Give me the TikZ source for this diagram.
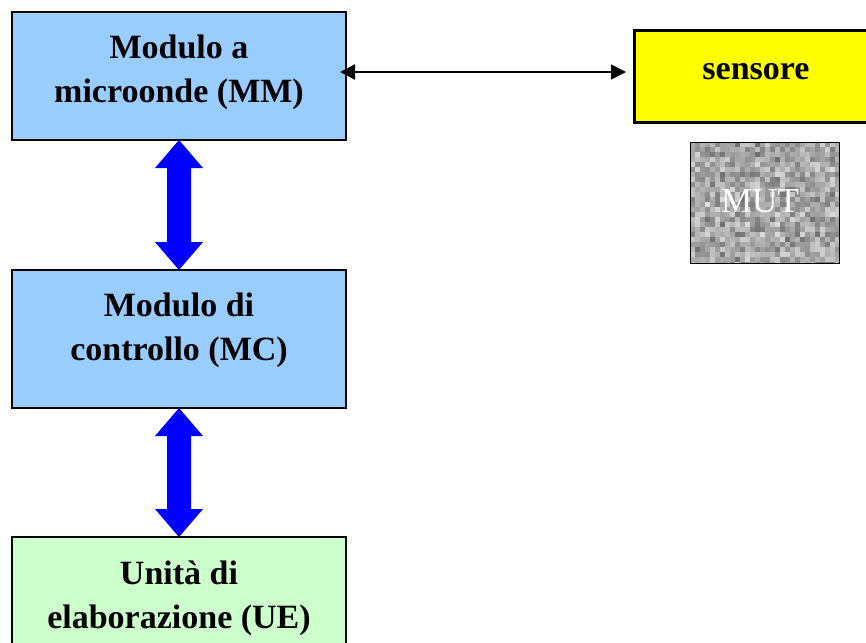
\documentclass[tikz,border=0pt]{standalone}
\usepackage{fontspec}
\setmainfont{Liberation Serif}
\usetikzlibrary{calc,arrows.meta}
\definecolor{mmblue}{HTML}{99CCFF}
\definecolor{uegreen}{HTML}{CCFFCC}
\definecolor{sensyellow}{HTML}{FFFF00}
\begin{document}
\begin{tikzpicture}[x=1pt,y=-1pt,
  box/.style={draw=black,line width=2pt,minimum width=334pt,inner sep=0pt,outer sep=0pt},
  lbl/.style={align=center,font=\fontsize{34}{44}\selectfont\bfseries,inner sep=0pt},
  bigarrow/.style={fill=blue},
  thinarrow/.style={line width=1.5pt,{Triangle[length=15pt,width=15pt]}-{Triangle[length=15pt,width=15pt]}}]
\useasboundingbox (0,0) rectangle (866,642);
% boxes
\node[box,fill=mmblue,minimum height=128pt] (mm) at (179,76) {};
\node[box,fill=mmblue,minimum height=138pt] (mc) at (179,339) {};
\node[box,fill=uegreen,minimum height=138pt] (ue) at (179,606) {};
\node[draw=black,line width=3pt,fill=sensyellow,minimum width=244pt,minimum height=91pt,inner sep=0pt,outer sep=0pt] (sens) at (756,76.5) {};
% texts
\node[lbl] (mmt) at (179,72) {Modulo a\\microonde (MM)};
\node[lbl] (mct) at (179,330) {Modulo di\\controllo (MC)};
\node[lbl] (uet) at (179,598) {Unità di\\elaborazione (UE)};
\node[lbl] (senst) at (756,72) {sensore};
% MUT textured box
\begin{scope}
\clip (690,142) rectangle (839,263);
\pgfmathsetseed{7}
\foreach \i in {0,...,29}{
  \foreach \j in {0,...,24}{
    \pgfmathsetmacro\g{int(12+0.5*random(0,46)+0.5*random(0,46))}
    \fill[black!\g] ({690+5*\i},{142+5*\j}) rectangle ++(5,5);
  }
}
\end{scope}
\node[draw=black,line width=1pt,minimum width=149pt,minimum height=121pt,inner sep=0pt,outer sep=0pt] (mut) at (764.5,202.5) {};
\node[text=white,font=\fontsize{35}{40}\selectfont,inner sep=0pt] (mutt) at (760,201) {MUT};
% big blue double arrows
\fill[bigarrow] (mm.south) -- ++(24,28) -- ++(-12,0) -- ($(mc.north)+(12,-28)$) -- ++(12,0) -- (mc.north) -- ++(-24,-28) -- ++(12,0) -- ($(mm.south)+(-12,28)$) -- ++(-12,0) -- cycle;
\fill[bigarrow] (mc.south) -- ++(24,28) -- ++(-12,0) -- ($(ue.north)+(12,-28)$) -- ++(12,0) -- (ue.north) -- ++(-24,-28) -- ++(12,0) -- ($(mc.south)+(-12,28)$) -- ++(-12,0) -- cycle;
% thin double arrow
\draw[thinarrow,shorten <=-6pt,shorten >=8pt] ($(mm.east)+(0,-4)$) -- ($(sens.west)+(0,-4.5)$);
\end{tikzpicture}
\end{document}
